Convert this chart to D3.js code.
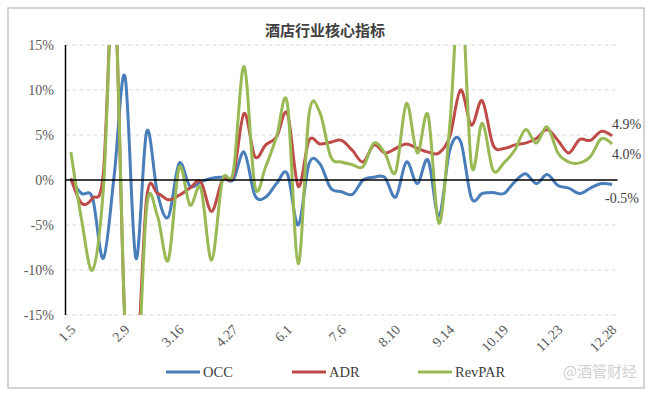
<!DOCTYPE html>
<html>
<head>
<meta charset="utf-8">
<script src="https://cdn.jsdelivr.net/npm/d3@7"></script>
<style>
  body { margin: 0; background: #fff; }
  svg { display: block; }
</style>
</head>
<body>
<div id="chart"></div>
<script>
(function () {

    // weekly dates (4.20 not in the series)
    var dates = ["1.5", "1.12", "1.19", "1.26", "2.2", "2.9", "2.16", "2.23", "3.2", "3.9",
        "3.16", "3.23", "3.30", "4.6", "4.13", "4.27", "5.4", "5.11", "5.18", "5.25",
        "6.1", "6.8", "6.15", "6.22", "6.29", "7.6", "7.13", "7.20", "7.27", "8.3",
        "8.10", "8.17", "8.24", "8.31", "9.7", "9.14", "9.21", "9.28", "10.5", "10.12",
        "10.19", "10.26", "11.2", "11.9", "11.16", "11.23", "11.30", "12.7", "12.14", "12.21",
        "12.28"];

    // values in %
    var occ = [0.0, -1.5, -2.0, -8.7, 0.5, 11.5, -8.7, 5.4, -1.5, -4.1,
        1.85, -0.7, -0.2, 0.2, 0.3, 0.0, 3.1, -1.7, -1.9, -0.4,
        0.7, -5.0, 1.8, 1.8, -0.9, -1.3, -1.6, 0.0, 0.3, 0.3,
        -1.9, 2.0, -0.4, 2.2, -4.0, 3.3, 4.3, -2.0, -1.5, -1.4,
        -1.5, -0.2, 0.7, -0.4, 0.6, -0.6, -0.9, -1.5, -0.9, -0.4,
        -0.5];
    var adr = [0.2, -2.6, -2.0, 0.8, 22, -16, -22, -2.0, -1.5, -2.2,
        -1.7, -0.9, -0.2, -3.5, 0.0, 0.5, 7.4, 2.6, 3.9, 4.8,
        7.4, -0.7, 4.4, 4.0, 4.2, 4.4, 3.3, 2.0, 3.9, 3.0,
        3.5, 4.0, 3.5, 3.1, 3.0, 4.8, 10.0, 6.1, 8.8, 3.9,
        3.5, 3.9, 4.1, 4.6, 5.6, 4.4, 3.0, 4.5, 4.4, 5.4,
        4.9];
    var revpar = [3.1, -4.5, -10.0, -1.0, 22, -16, -25, -3.0, -4.0, -8.9,
        1.4, -2.8, -0.9, -8.9, 0.0, 0.9, 12.6, -0.7, 1.5, 4.8,
        8.5, -9.3, 7.3, 7.5, 2.6, 2.0, 1.7, 1.5, 4.1, 3.0,
        0.9, 8.5, 3.0, 7.2, -4.8, 6.0, 22, 1.7, 6.3, 1.1,
        1.9, 3.3, 5.6, 4.1, 5.9, 3.0, 2.0, 1.9, 2.6, 4.6,
        4.0];

    var yTicks = [15, 10, 5, 0, -5, -10, -15];
    var tickEvery = 5;

    var series = [
        { name: "OCC", values: occ, color: "#4a7ebb" },
        { name: "ADR", values: adr, color: "#be4b48" },
        { name: "RevPAR", values: revpar, color: "#98b954" }
    ];

    var width = 650, height = 396;
    var serif = "'Liberation Serif', 'Times New Roman', serif";

    var x = d3.scalePoint()
        .domain(dates)
        .range([65.5, 617.5])
        .padding(0.5);

    var y = d3.scaleLinear()
        .domain([-15, 15])
        .range([315, 45]);

    var svg = d3.select("#chart").append("svg")
        .attr("width", width)
        .attr("height", height);

    // outer frame
    svg.append("rect")
        .attr("x", 8).attr("y", 8)
        .attr("width", 636).attr("height", 380)
        .attr("fill", "#fff")
        .attr("stroke", "#c6c6c6")
        .attr("stroke-width", 1.5);

    svg.append("text")
        .attr("x", 325).attr("y", 36)
        .attr("text-anchor", "middle")
        .style("font-family", "'Noto Sans CJK SC', sans-serif")
        .style("font-weight", "bold")
        .style("font-size", "15px")
        .attr("fill", "#404040")
        .text("酒店行业核心指标");

    // gridlines
    svg.append("g").selectAll("line")
        .data(yTicks.filter(function (d) { return d !== 0; }))
        .enter().append("line")
        .attr("x1", 65.5).attr("x2", 617.5)
        .attr("y1", function (d) { return y(d); })
        .attr("y2", function (d) { return y(d); })
        .attr("stroke", "#d9d9d9")
        .attr("stroke-dasharray", "4,3")
        .attr("stroke-width", 1);

    // y labels
    svg.append("g").selectAll("text")
        .data(yTicks)
        .enter().append("text")
        .attr("x", 54)
        .attr("y", function (d) { return y(d); })
        .attr("dy", "0.35em")
        .attr("text-anchor", "end")
        .style("font-family", serif)
        .style("font-size", "14px")
        .attr("fill", "#595959")
        .text(function (d) { return d + "%"; });

    // x labels
    svg.append("g").selectAll("text")
        .data(dates.filter(function (d, i) { return i % tickEvery === 0; }))
        .enter().append("text")
        .attr("transform", function (d) {
            return "translate(" + (x(d) + 2) + ",327) rotate(-45)";
        })
        .attr("dy", "0.35em")
        .attr("text-anchor", "end")
        .style("font-family", serif)
        .style("font-size", "14px")
        .attr("fill", "#595959")
        .text(function (d) { return d; });

    svg.append("clipPath").attr("id", "plot-clip")
        .append("rect")
        .attr("x", 60).attr("y", y(15))
        .attr("width", 565).attr("height", y(-15) - y(15));

    var line = d3.line()
        .x(function (d, i) { return x(dates[i]); })
        .y(function (d) { return y(d); })
        .curve(d3.curveCatmullRom.alpha(0));

    svg.append("g")
        .attr("clip-path", "url(#plot-clip)")
        .selectAll("path")
        .data(series)
        .enter().append("path")
        .attr("d", function (d) { return line(d.values); })
        .attr("fill", "none")
        .attr("stroke", function (d) { return d.color; })
        .attr("stroke-width", 3)
        .attr("stroke-linejoin", "round");

    // axes drawn on top
    svg.append("line")
        .attr("x1", 65.5).attr("x2", 617.5)
        .attr("y1", y(0)).attr("y2", y(0))
        .attr("stroke", "#000").attr("stroke-width", 1.5);
    svg.append("line")
        .attr("x1", 65.5).attr("x2", 65.5)
        .attr("y1", y(15)).attr("y2", y(-15))
        .attr("stroke", "#000").attr("stroke-width", 1.5);

    // end value labels
    var endLabels = [
        { values: adr, dy: -0.5 },
        { values: revpar, dy: 1.1 },
        { values: occ, dy: 1.3 }
    ];
    svg.append("g").selectAll("text")
        .data(endLabels)
        .enter().append("text")
        .attr("x", function (d) { return d.values[50] < 0 ? 605 : 612; })
        .attr("y", function (d) { return y(d.values[50]); })
        .attr("dy", function (d) { return d.dy + "em"; })
        .style("font-family", serif)
        .style("font-size", "14px")
        .attr("fill", "#404040")
        .text(function (d) { return d.values[50].toFixed(1) + "%"; });

    // legend
    var legend = svg.append("g").selectAll("g")
        .data(series)
        .enter().append("g")
        .attr("transform", function (d, i) { return "translate(" + (166 + i * 126) + ",372)"; });
    legend.append("line")
        .attr("x1", 0).attr("x2", 34)
        .attr("stroke", function (d) { return d.color; })
        .attr("stroke-width", 3);
    legend.append("text")
        .attr("x", 37).attr("dy", "0.35em")
        .style("font-family", serif)
        .style("font-size", "14.5px")
        .attr("fill", "#404040")
        .text(function (d) { return d.name; });

    // watermark
    svg.append("text")
        .attr("x", 637).attr("y", 372).attr("dy", "0.35em")
        .attr("text-anchor", "end")
        .style("font-family", "'Noto Sans CJK SC', sans-serif")
        .style("font-size", "15px")
        .attr("fill", "#d0d0d0")
        .text("@酒管财经");
})();
</script>
</body>
</html>
